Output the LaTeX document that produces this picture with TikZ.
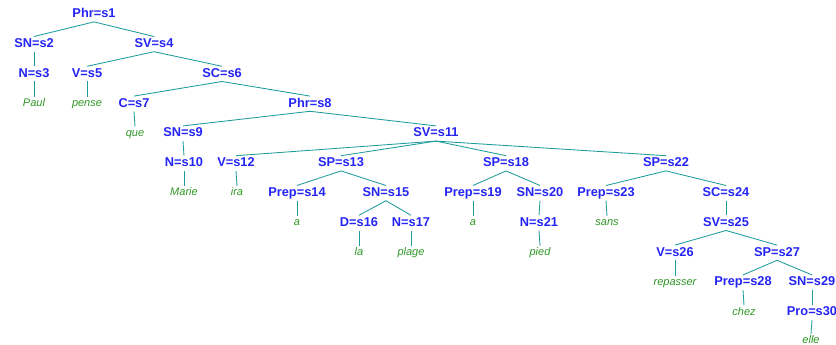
\documentclass[tikz,border=0pt]{standalone}
\usepackage{fontspec}
\setmainfont{Liberation Sans}
\definecolor{labblue}{RGB}{36,36,245}
\definecolor{wordgreen}{RGB}{45,150,35}
\definecolor{edgeteal}{RGB}{30,155,155}
\tikzset{
  lab/.style={anchor=base, text=labblue, inner sep=1.5pt, text height=9.2pt, text depth=2.6pt,
    font=\bfseries\fontsize{12.8}{14}\selectfont},
  word/.style={anchor=base, text=wordgreen, inner sep=1.5pt, text height=8pt, text depth=2.4pt,
    font=\itshape\fontsize{11}{13}\selectfont},
  edge/.style={draw=edgeteal, line width=0.85pt}
}
\begin{document}
\begin{tikzpicture}[x=1pt,y=-1pt]
\useasboundingbox (0,0) rectangle (836,345);
% row 0
\node[lab] (s1) at (94,17.6) {Phr=s1};
% row 1
\node[lab] (s2) at (34,47.4) {SN=s2};
\node[lab] (s4) at (154,47.4) {SV=s4};
% row 2
\node[lab] (s3) at (34,77.2) {N=s3};
\node[lab] (s5) at (87,77.2) {V=s5};
\node[lab] (s6) at (222,77.2) {SC=s6};
% row 3
\node[word] (w3) at (34,106.4) {Paul};
\node[word] (w5) at (87,106.4) {pense};
\node[lab] (s7) at (134,107) {C=s7};
\node[lab] (s8) at (310,107) {Phr=s8};
% row 4
\node[word] (w7) at (135,136.2) {que};
\node[lab] (s9) at (183,136.8) {SN=s9};
\node[lab] (s11) at (436,136.8) {SV=s11};
% row 5
\node[lab] (s10) at (184,166.6) {N=s10};
\node[lab] (s12) at (236,166.6) {V=s12};
\node[lab] (s13) at (341,166.6) {SP=s13};
\node[lab] (s18) at (506,166.6) {SP=s18};
\node[lab] (s22) at (666,166.6) {SP=s22};
% row 6
\node[word] (w10) at (184,195.8) {Marie};
\node[word] (w12) at (237,195.8) {ira};
\node[lab] (s14) at (297,196.4) {Prep=s14};
\node[lab] (s15) at (386,196.4) {SN=s15};
\node[lab] (s19) at (473,196.4) {Prep=s19};
\node[lab] (s20) at (540,196.4) {SN=s20};
\node[lab] (s23) at (606,196.4) {Prep=s23};
\node[lab] (s24) at (726,196.4) {SC=s24};
% row 7
\node[word] (w14) at (297,225.6) {a};
\node[lab] (s16) at (359,226.2) {D=s16};
\node[lab] (s17) at (411,226.2) {N=s17};
\node[word] (w19) at (473,225.6) {a};
\node[lab] (s21) at (539,226.2) {N=s21};
\node[word] (w23) at (607,225.6) {sans};
\node[lab] (s25) at (726,226.2) {SV=s25};
% row 8
\node[word] (w16) at (359,255.4) {la};
\node[word] (w17) at (411,255.4) {plage};
\node[word] (w21) at (540,255.4) {pied};
\node[lab] (s26) at (675,256) {V=s26};
\node[lab] (s27) at (777,256) {SP=s27};
% row 9
\node[word] (w26) at (675,285.2) {repasser};
\node[lab] (s28) at (743,285.8) {Prep=s28};
\node[lab] (s29) at (812,285.8) {SN=s29};
% row 10
\node[word] (w28) at (744,315) {chez};
\node[lab] (s30) at (812,315.6) {Pro=s30};
% row 11
\node[word, text depth=0pt, inner sep=0.5pt] (w30) at (811,343.6) {elle};
% edges
\foreach \p/\c in {s1/s2,s1/s4,s2/s3,s3/w3,s4/s5,s4/s6,s5/w5,s6/s7,s6/s8,s7/w7,
  s8/s9,s8/s11,s9/s10,s10/w10,s11/s12,s11/s13,s11/s18,s11/s22,s12/w12,
  s13/s14,s13/s15,s14/w14,s15/s16,s15/s17,s16/w16,s17/w17,
  s18/s19,s18/s20,s19/w19,s20/s21,s21/w21,
  s22/s23,s22/s24,s23/w23,s24/s25,s25/s26,s25/s27,s26/w26,
  s27/s28,s27/s29,s28/w28,s29/s30}
  \draw[edge] (\p.south) -- (\c.north);
\draw[edge] (s30.south) -- ([yshift=1pt]w30.north);
\end{tikzpicture}
\end{document}
